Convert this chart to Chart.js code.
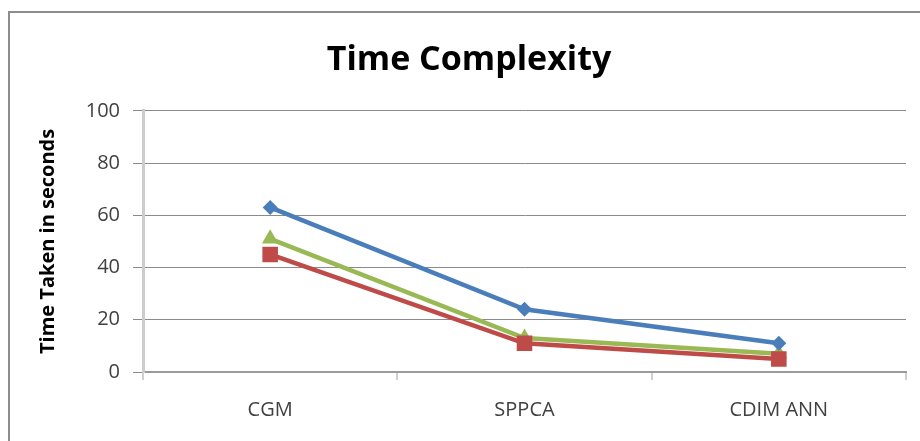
<!DOCTYPE html>
<html>
<head>
<meta charset="utf-8">
<script src="https://cdn.jsdelivr.net/npm/chart.js@4/dist/chart.umd.min.js"></script>
<style>
  html, body { margin: 0; padding: 0; background: #fff; overflow: hidden; }
  #wrap { position: relative; width: 920px; height: 441px; overflow: hidden; }
  #frame { position: absolute; left: 8px; top: 11px; width: 940px; height: 460px; border: 2px solid #8c8c8c; box-sizing: border-box; }
  #box { position: absolute; left: 0; top: 0; width: 920px; height: 441px; }
</style>
</head>
<body>
<div id="wrap">
  <div id="frame"></div>
  <div id="box"><canvas id="c"></canvas></div>
</div>
<script>
const categories = ['CGM', 'SPPCA', 'CDIM ANN'];
const seriesBlue = [63, 24, 11];
const seriesRed = [45, 11, 5];
const seriesGreen = [51, 13, 7];
const yTicks = [0, 20, 40, 60, 80, 100];

new Chart(document.getElementById('c'), {
  type: 'line',
  data: {
    labels: categories,
    datasets: [
      { data: seriesBlue, borderColor: '#4a7ebb', backgroundColor: '#4a7ebb', borderWidth: 4.5,
        pointStyle: 'rectRot', pointRadius: 7.5, pointBorderWidth: 0 },
      { data: seriesRed, borderColor: '#be4b48', backgroundColor: '#be4b48', borderWidth: 4.5,
        pointStyle: 'rect', pointRadius: 11, pointBorderWidth: 0 },
      { data: seriesGreen, borderColor: '#98b954', backgroundColor: '#98b954', borderWidth: 4.5,
        pointStyle: 'triangle', pointRadius: 9.5, pointBorderWidth: 0 }
    ]
  },
  options: {
    responsive: true,
    maintainAspectRatio: false,
    animation: false,
    layout: { padding: { left: 32, right: 14, top: 0, bottom: 0 } },
    plugins: {
      legend: { display: false },
      tooltip: { enabled: false },
      title: {
        display: true,
        text: 'Time Complexity',
        color: '#000',
        font: { family: 'Open Sans', size: 34, weight: 'bold' },
        padding: { top: 40, bottom: 30 }
      }
    },
    scales: {
      x: {
        type: 'category',
        offset: true,
        grid: { display: true, offset: true, drawOnChartArea: false, drawTicks: true, tickLength: 8, color: '#cfcfcf', lineWidth: 2 },
        border: { display: true, color: '#9a9a9a', width: 2 },
        ticks: { color: '#404040', font: { family: 'Open Sans', size: 20 }, padding: 18, maxRotation: 0 },
        afterFit: (s) => { s.height = 69; }
      },
      y: {
        min: 0, max: 100,
        afterBuildTicks: (s) => { s.ticks = yTicks.map(v => ({ value: v })); },
        grid: { color: '#8a8a8a', lineWidth: 1, tickLength: 10 },
        border: { display: true, color: '#cccccc', width: 3 },
        ticks: { color: '#404040', font: { family: 'Open Sans', size: 20 }, padding: 13 },
        title: {
          display: true,
          text: 'Time Taken in seconds',
          color: '#000',
          font: { family: 'Open Sans', size: 20, weight: 'bold' },
          padding: { top: 4, bottom: 0 }
        },
        afterFit: (s) => { s.width = 111; }
      }
    }
  }
});
</script>
</body>
</html>
